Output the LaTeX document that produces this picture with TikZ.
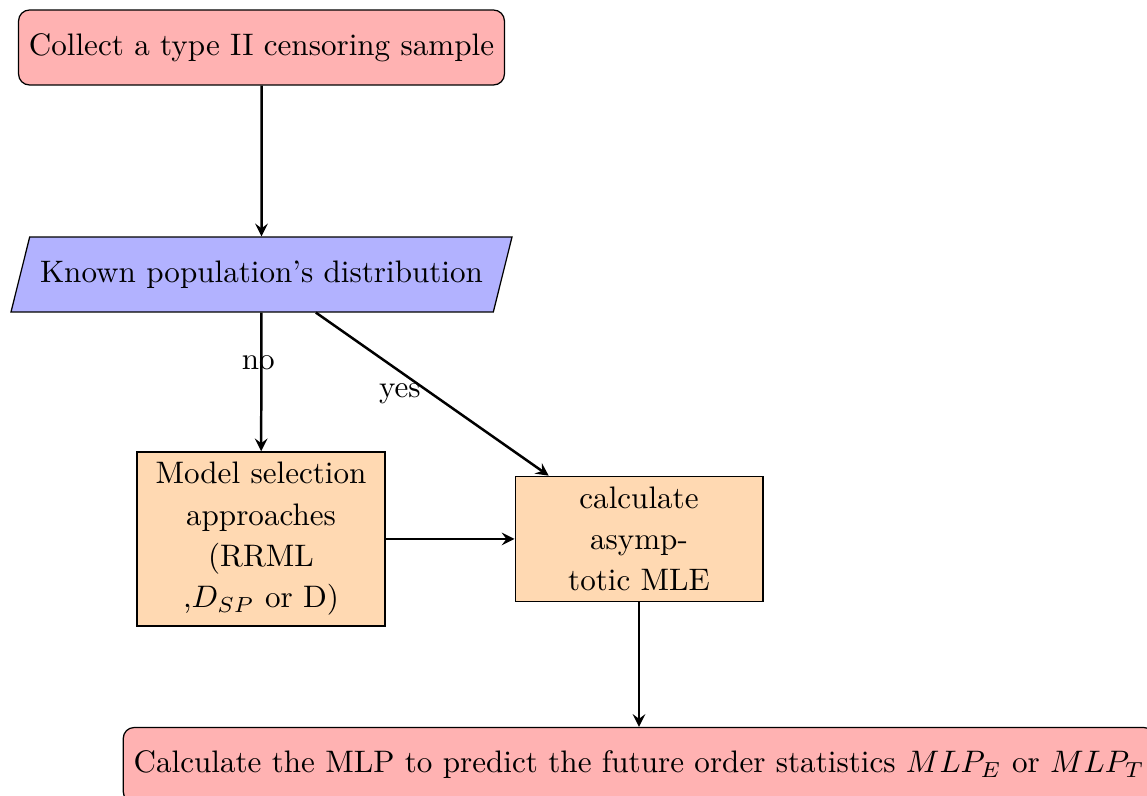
\documentclass[tikz,border=0pt]{standalone}
\usetikzlibrary{shapes.geometric,arrows}
\begin{document}
\begin{tikzpicture}[x=0.32154pt,y=-0.32154pt,
  startstop/.style={rectangle, rounded corners=3.5pt, minimum height=24.1pt, draw=black, fill=red!30, text centered},
  io/.style={trapezium, trapezium left angle=76, trapezium right angle=104, inner ysep=7.6pt, draw=black, fill=blue!30, text centered},
  process/.style={rectangle, text width=73pt, draw=black, fill=orange!30, text centered, font=\fontsize{10}{13.3}\selectfont},
  arrow/.style={thick, -stealth}]
\useasboundingbox (0,0) rectangle (1147,796);
\clip (0,0) rectangle (1147,796);
\node (start) [startstop] at (261.5,47.5) {Collect a type II censoring sample};
\node (in1) [io] at (261.5,274.5) {Known population's distribution};
\node (pro1) [process] at (261,539) {Model selection approaches (RRML ,$D_{SP}$ or D)};
\node (pro2) [process] at (639,539) {calculate asymptotic MLE};
\node (stop) [startstop] at (639,765) {Calculate the MLP to predict the future order statistics $MLP_E$ or $MLP_T$};
\draw [arrow] (start) -- (in1);
\draw [arrow] (in1) -- node[pos=0.36, xshift=-1pt] {no} (pro1);
\draw [arrow] (in1) -- node[midway, left] {yes} (pro2);
\draw [arrow] (pro1) -- (pro2);
\draw [arrow] (pro2) -- (stop);
\end{tikzpicture}
\end{document}
